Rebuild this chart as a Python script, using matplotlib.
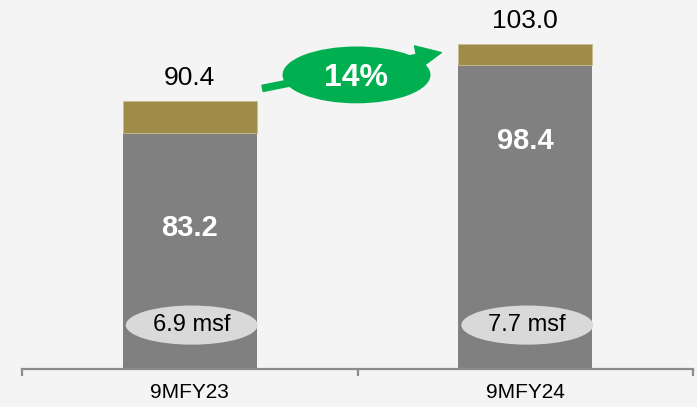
import matplotlib
matplotlib.use("Agg")
import matplotlib.pyplot as plt
import matplotlib.transforms as mtransforms
from matplotlib.patches import Ellipse, FancyArrowPatch

plt.rcParams["font.family"] = ["Liberation Sans", "DejaVu Sans"]

# Collections, in Rs bn, with area leased under each period
periods = ["9MFY23", "9MFY24"]
core = [83.2, 98.4]
total = [90.4, 103.0]
other = [t - c for t, c in zip(total, core)]
area_msf = [6.9, 7.7]

GREY = "#808080"
GOLD = "#a08c4a"
GREEN = "#00b050"
BG = "#f4f4f4"

fig = plt.figure(figsize=(6.97, 4.07), dpi=100, facecolor=BG)
ax = fig.add_axes([22 / 697, 38 / 407, 671 / 697, 369 / 407], facecolor=BG)

x = list(range(len(periods)))
ax.bar(x, core, width=0.4, color=GREY, zorder=2)
ax.bar(x, other, bottom=core, width=0.4, color=GOLD,
       edgecolor="#c8bd8e", linewidth=0.6, zorder=2)

ax.set_xlim(-0.5, 1.5)
ax.set_ylim(30.5, 112.9)

# totals above each bar
for xi, t in zip(x, total):
    ax.annotate(f"{t:.1f}", (xi, t), xytext=(0, 8), textcoords="offset points",
                ha="center", va="bottom", fontsize=19, color="black")

# core value inside the grey segment
drops = [95, 76]
for xi, c, d in zip(x, core, drops):
    ax.annotate(f"{c:.1f}", (xi, c), xytext=(0, -d * 0.72), textcoords="offset points",
                ha="center", va="center", fontsize=21, fontweight="bold",
                color="white", zorder=4)

# area pills near the base
blend = mtransforms.blended_transform_factory(ax.transData, ax.transAxes)
for xi, a in zip(x, area_msf):
    ax.add_patch(Ellipse((xi + 0.006, 0.119), 0.393, 0.106, transform=blend,
                         facecolor="#d9d9d9", edgecolor="none", zorder=3))
    ax.text(xi + 0.006, 0.119, f"{a} msf", transform=blend, ha="center",
            va="center", fontsize=17, color="black", zorder=4)

# growth arrow between the two totals
growth = round((total[1] / total[0] - 1) * 100)
arrow = FancyArrowPatch((0.209, 0.759), (0.758, 0.859), transform=blend,
                        arrowstyle="simple,head_width=3.4,head_length=3.6,tail_width=0.9",
                        mutation_scale=5, color=GREEN, zorder=5, clip_on=False)
ax.add_patch(arrow)
ax.add_patch(Ellipse((0.497, 0.797), 0.441, 0.154, transform=blend,
                     facecolor=GREEN, edgecolor="none", zorder=6, clip_on=False))
ax.text(0.497, 0.789, f"{growth}%", transform=blend, ha="center", va="center",
        fontsize=23, fontweight="bold", color="white", zorder=7)

for side in ("left", "right", "top"):
    ax.spines[side].set_visible(False)
ax.spines["bottom"].set_color("#8c8c8c")
ax.spines["bottom"].set_linewidth(1.6)
ax.set_yticks([])
ax.set_xticks([-0.5, 0.5, 1.5])
ax.set_xticklabels([])
ax.tick_params(axis="x", which="major", length=5, width=1.6, color="#8c8c8c",
               direction="out")
ax.set_xticks(x, minor=True)
ax.set_xticklabels(periods, minor=True, fontsize=15)
ax.tick_params(axis="x", which="minor", length=0, pad=10)

fig.savefig("out.png", dpi=100, facecolor=BG)
